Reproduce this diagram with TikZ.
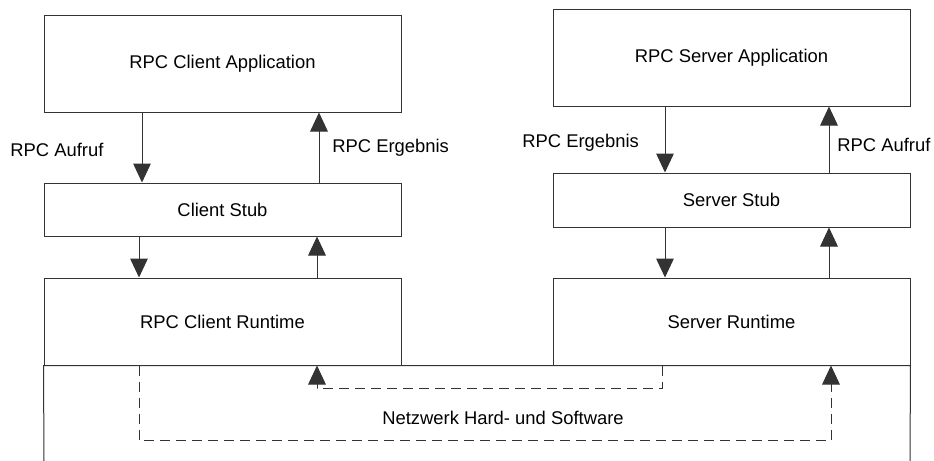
\documentclass[tikz,border=0pt]{standalone}
\usepackage{fontspec}
\setmainfont{Liberation Sans}
\usepackage{tikz}
\usetikzlibrary{calc, positioning, arrows.meta}
\definecolor{LineGray}{HTML}{333333}

\begin{document}
\begin{tikzpicture}[x=0.5pt, y=-0.5pt,
      box/.style={draw=LineGray, line width=0.5pt, minimum width=178.5pt, align=center,
                  inner sep=0pt, font=\fontsize{9.2}{11}\selectfont},
      lbl/.style={anchor=west, inner sep=0pt, font=\fontsize{9.2}{11}\selectfont},
      arr/.style={-{Triangle[width=8.8pt, length=9.5pt]}, draw=LineGray, line width=0.5pt},
      dasharr/.style={arr, dash pattern=on 5pt off 3pt}]
      \useasboundingbox (0,0) rectangle (934,461);

      % Client side
      \node[box, minimum height=48.5pt] (capp)  at (222.5, 63.5)  {RPC Client Application};
      \node[box, minimum height=26.5pt] (cstub) at (222.5, 209.5) {Client Stub};
      \node[box, minimum height=43.5pt] (crun)  at (222.5, 321.5) {RPC Client Runtime};

      % Server side
      \node[box, minimum height=48.5pt] (sapp)  at (731.5, 57.5)  {RPC Server Application};
      \node[box, minimum height=27pt]   (sstub) at (731.5, 200)   {Server Stub};
      \node[box, minimum height=43.5pt] (srun)  at (731.5, 321.5) {Server Runtime};

      % Network (open at the bottom)
      \coordinate (nbl) at (44,461);
      \coordinate (nbr) at (910,461);
      \draw[LineGray, line width=0.5pt] (nbl) -- (crun.south west) -- (srun.south east) -- (nbr);
      \node[lbl, anchor=center] (net) at (503,418) {Netzwerk Hard- und Software};

      % Client arrows
      \draw[arr] ($(capp.south)+(-80.5,0)$) -- ($(cstub.north)+(-80.5,0)$);
      \draw[arr] ($(cstub.north)+(96.5,0)$) -- ($(capp.south)+(96.5,0)$);
      \draw[arr] ($(cstub.south)+(-83.5,0)$) -- ($(crun.north)+(-83.5,0)$);
      \draw[arr] ($(crun.north)+(94.5,0)$) -- ($(cstub.south)+(94.5,0)$);

      % Server arrows
      \draw[arr] ($(sapp.south)+(-66.5,0)$) -- ($(sstub.north)+(-66.5,0)$);
      \draw[arr] ($(sstub.north)+(97.5,0)$) -- ($(sapp.south)+(97.5,0)$);
      \draw[arr] ($(sstub.south)+(-66.5,0)$) -- ($(srun.north)+(-66.5,0)$);
      \draw[arr] ($(srun.north)+(97.5,0)$) -- ($(sstub.south)+(97.5,0)$);

      % Arrow labels
      \node[lbl] (caufruf) at (10,150)  {RPC Aufruf};
      \node[lbl] (cerg)    at (332,148) {RPC Ergebnis};
      \node[lbl] (serg)    at (522,143) {RPC Ergebnis};
      \node[lbl] (saufruf) at (837,145) {RPC Aufruf};

      % Through the network
      \draw[dasharr] ($(crun.south)+(-83.5,0)$) -- ++(0,75) -| ($(srun.south)+(99.5,0)$);
      \draw[dasharr] ($(srun.south)+(-69.5,0)$) -- ++(0,23) -| ($(crun.south)+(94.5,0)$);
    \end{tikzpicture}
\end{document}
